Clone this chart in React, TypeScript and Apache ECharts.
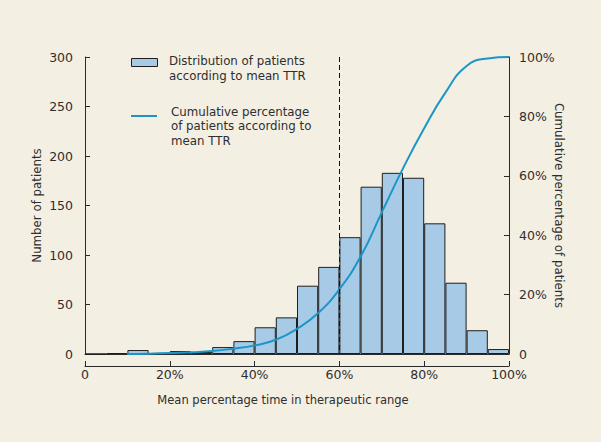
import React, { useEffect, useRef } from "react";
import * as echarts from "echarts";

const binLabels = [
  "0-5", "5-10", "10-15", "15-20", "20-25", "25-30", "30-35", "35-40", "40-45", "45-50",
  "50-55", "55-60", "60-65", "65-70", "70-75", "75-80", "80-85", "85-90", "90-95", "95-100",
];
const patientCounts = [0, 1, 4, 1, 3, 2, 7, 13, 27, 37, 69, 88, 118, 169, 183, 178, 132, 72, 24, 5];

const cumulativeX = [10, 15, 20, 25, 30, 35, 40, 45, 50, 55, 60, 65, 70, 75, 80, 85, 90, 95, 100];
const cumulativePct = [0, 0.1, 0.3, 0.6, 1, 1.8, 2.9, 4.8, 8.5, 13.8, 21.8, 32.8, 47.7, 62.5, 76, 88, 97, 99.5, 100];

const thresholdTTR = 60;

const legendBarLabel = ["Distribution of patients", "according to mean TTR"];
const legendLineLabel = ["Cumulative percentage", "of patients according to", "mean TTR"];

const FONT = "DejaVu Sans";
const TEXT = "#2e2e2e";
const AXIS = "#2a2a2a";
const BAR = "#a7cbe7";
const LINE = "#1b96c7";
const BG = "#f4efe3";

const pctFmt = (v: number) => (v === 0 ? "0" : v + "%");

export default function App() {
  const ref = useRef<HTMLDivElement>(null);
  useEffect(() => {
    if (!ref.current) return;
    const chart = echarts.init(ref.current, null, { renderer: "svg" });
    const legendTexts: any[] = [];
    legendBarLabel.forEach((t, i) =>
      legendTexts.push({
        type: "text",
        left: 169,
        top: 55 + i * 14.5,
        style: { text: t, fill: TEXT, font: `11.8px "${FONT}"` },
      })
    );
    legendLineLabel.forEach((t, i) =>
      legendTexts.push({
        type: "text",
        left: 171,
        top: 105.5 + i * 14.7,
        style: { text: t, fill: TEXT, font: `11.8px "${FONT}"` },
      })
    );
    const option: any = {
      animation: false,
      backgroundColor: BG,
      textStyle: { fontFamily: FONT },
      grid: { left: 85, right: 92, top: 57, bottom: 88, containLabel: false },
      xAxis: [
        {
          type: "category",
          data: binLabels,
          boundaryGap: true,
          axisLine: { show: true, onZero: false, lineStyle: { color: AXIS, width: 1 } },
          axisTick: { show: false },
          axisLabel: { show: false },
          splitLine: { show: false },
        },
        {
          type: "value",
          min: 0,
          max: 100,
          interval: 20,
          position: "bottom",
          offset: 12,
          name: "Mean percentage time in therapeutic range",
          nameLocation: "middle",
          nameGap: 28,
          nameMoveOverlap: false,
          nameTextStyle: { color: TEXT, fontSize: 11.5, fontFamily: FONT, padding: [0, 28, 0, 0] },
          axisLine: { show: true, onZero: false, lineStyle: { color: AXIS, width: 1 } },
          axisTick: { show: true, inside: true, length: 5, lineStyle: { color: AXIS } },
          axisLabel: { color: TEXT, fontSize: 12.5, fontFamily: FONT, margin: 2, formatter: pctFmt },
          splitLine: { show: false },
        },
      ],
      yAxis: [
        {
          type: "value",
          min: 0,
          max: 300,
          interval: 50,
          position: "left",
          name: "Number of patients",
          nameLocation: "middle",
          nameGap: 42,
          nameMoveOverlap: false,
          nameRotate: 90,
          nameTextStyle: { color: TEXT, fontSize: 11.8, fontFamily: FONT },
          axisLine: { show: true, lineStyle: { color: AXIS, width: 1 } },
          axisTick: { show: true, inside: true, length: 5, lineStyle: { color: AXIS } },
          axisLabel: { color: TEXT, fontSize: 12.5, fontFamily: FONT, margin: 12 },
          splitLine: { show: false },
        },
        {
          type: "value",
          min: 0,
          max: 100,
          interval: 20,
          position: "right",
          name: "Cumulative percentage of patients",
          nameLocation: "middle",
          nameGap: 44,
          nameMoveOverlap: false,
          nameRotate: -90,
          nameTextStyle: { color: TEXT, fontSize: 11.8, fontFamily: FONT },
          axisLine: { show: true, lineStyle: { color: AXIS, width: 1 } },
          axisTick: { show: true, inside: true, length: 5, lineStyle: { color: AXIS } },
          axisLabel: { color: TEXT, fontSize: 12.5, fontFamily: FONT, margin: 10, formatter: pctFmt },
          splitLine: { show: false },
        },
      ],
      series: [
        {
          name: "Distribution of patients according to mean TTR",
          type: "bar",
          xAxisIndex: 0,
          yAxisIndex: 0,
          data: patientCounts,
          barCategoryGap: "0%",
          itemStyle: { color: BAR, borderColor: "#1e1e1e", borderWidth: 1 },
          z: 2,
        },
        {
          name: "Cumulative percentage of patients according to mean TTR",
          type: "line",
          xAxisIndex: 1,
          yAxisIndex: 1,
          data: cumulativeX.map((x, i) => [x, cumulativePct[i]]),
          smooth: 0.5,
          showSymbol: false,
          symbol: "none",
          lineStyle: { color: LINE, width: 2 },
          z: 4,
          markLine: {
            silent: true,
            symbol: ["none", "none"],
            label: { show: false },
            lineStyle: { color: "#111", type: [5, 3], width: 1 },
            data: [[{ coord: [thresholdTTR, 100] }, { coord: [thresholdTTR, 0] }]],
          },
        },
      ],
      graphic: [
        {
          type: "rect",
          left: 131,
          top: 58,
          shape: { width: 26, height: 8 },
          style: { fill: BAR, stroke: "#1e1e1e", lineWidth: 1 },
        },
        {
          type: "line",
          shape: { x1: 131, y1: 116, x2: 157, y2: 116 },
          style: { stroke: LINE, lineWidth: 2 },
        },
        ...legendTexts,
      ],
    };
    chart.setOption(option);
    return () => chart.dispose();
  }, []);
  return (
    <div
      ref={ref}
      style={{ position: "fixed", left: 0, top: 0, width: 601, height: 442 }}
    />
  );
}
